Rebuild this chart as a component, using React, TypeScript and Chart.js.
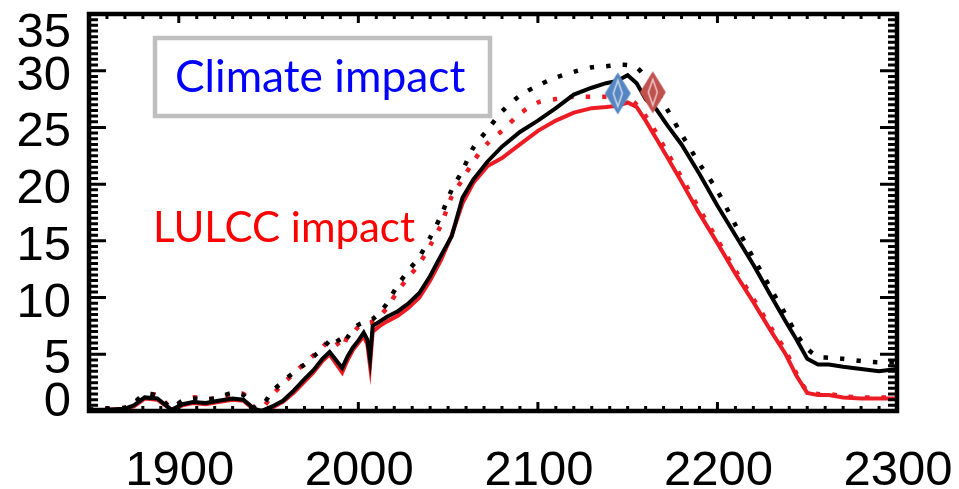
import React, { useEffect, useRef } from "react";
import { Chart, registerables } from "chart.js";

Chart.register(...registerables);

// ---------- data ----------
const years = [
  1850, 1860, 1870, 1875, 1881, 1888, 1896, 1902, 1908, 1915, 1922, 1930, 1936, 1942, 1946,
  1952, 1958, 1964, 1970, 1975, 1980, 1984, 1987, 1991, 1994, 1997, 2000, 2003, 2005, 2006.5,
  2008, 2012, 2016, 2022, 2028, 2034, 2040, 2046, 2052, 2058, 2064, 2072, 2080, 2090, 2100,
  2110, 2120, 2130, 2138, 2144, 2150, 2155, 2160, 2166, 2172, 2180, 2190, 2200, 2210, 2220,
  2230, 2238, 2244, 2250, 2256, 2262, 2270, 2280, 2290, 2300,
];

const blackSolid = [
  0.1, 0.1, 0.2, 0.5, 1.2, 1.1, 0.1, 0.6, 0.8, 0.7, 0.9, 1.1, 1.0, 0.2, 0.0,
  0.4, 0.9, 1.8, 2.8, 3.6, 4.6, 5.2, 4.6, 3.8, 4.8, 5.6, 6.2, 6.9, 6.3, 4.6,
  7.5, 7.9, 8.3, 8.8, 9.5, 10.4, 11.9, 13.7, 15.4, 18.8, 20.4, 22.0, 23.3, 24.6, 25.6,
  26.7, 27.9, 28.5, 28.9, 29.1, 29.6, 28.9, 27.5, 26.6, 25.2, 23.5, 20.9, 18.1, 15.5, 12.9,
  10.1, 7.9, 6.3, 4.6, 4.1, 4.1, 3.9, 3.7, 3.5, 3.7,
];

const blackDotted = [
  0.1, 0.2, 0.3, 0.7, 1.5, 1.3, 0.3, 0.9, 1.1, 1.0, 1.2, 1.6, 1.4, 0.3, 0.4,
  1.7, 2.6, 3.4, 4.1, 4.8, 5.5, 6.2, 6.6, 5.8, 6.5, 7.2, 7.6, 7.8, 7.9, 8.0,
  8.1, 8.7, 9.5, 11.1, 12.4, 13.6, 15.3, 17.2, 19.5, 21.2, 23.2, 24.8, 26.4, 27.8, 28.7,
  29.4, 29.9, 30.3, 30.4, 30.5, 30.5, 30.3, 29.4, 28.2, 26.6, 24.4, 21.8, 19.4, 16.4, 13.5,
  10.7, 8.5, 6.8, 5.5, 4.8, 4.7, 4.6, 4.4, 4.3, 4.3,
];

const redSolid = [
  0.0, 0.1, 0.2, 0.4, 1.1, 1.0, 0.1, 0.5, 0.7, 0.6, 0.8, 1.0, 0.9, 0.1, 0.0,
  0.3, 0.8, 1.6, 2.6, 3.4, 4.4, 5.0, 4.3, 3.4, 4.5, 5.4, 6.0, 6.6, 5.9, 4.0,
  7.0, 7.5, 7.9, 8.4, 9.1, 10.0, 11.5, 13.3, 15.5, 18.3, 20.1, 21.6, 22.3, 23.5, 24.7,
  25.6, 26.3, 26.7, 26.8, 26.9, 27.2, 26.8, 25.6, 24.0, 22.4, 20.2, 17.4, 14.8, 12.1, 9.6,
  7.0, 5.0, 3.1, 1.6, 1.4, 1.4, 1.2, 1.1, 1.1, 1.1,
];

const redDotted = [
  0.1, 0.2, 0.3, 0.6, 1.4, 1.4, 0.3, 0.9, 1.2, 1.1, 1.1, 1.5, 1.5, 0.3, 0.2,
  1.4, 2.4, 3.3, 4.2, 4.9, 5.6, 6.3, 6.2, 5.5, 6.6, 6.9, 7.4, 7.6, 7.8, 7.8,
  7.9, 8.4, 9.1, 10.6, 11.8, 13.0, 14.6, 16.4, 18.9, 20.4, 22.0, 23.6, 24.7, 26.2, 27.2,
  27.5, 27.7, 27.7, 27.7, 27.7, 27.6, 27.0, 26.0, 24.5, 22.8, 20.6, 17.8, 15.1, 12.4, 9.9,
  7.3, 5.3, 3.3, 1.8, 1.5, 1.5, 1.3, 1.2, 1.2, 1.2,
];

const markerYears = [2144.5, 2164];
const markerValues = [28.0, 28.1];
const markerColors = ["#5686c2", "#c0504d"];

const xTickLabels = [1900, 2000, 2100, 2200, 2300];
const yTickLabels = [0, 5, 10, 15, 20, 25, 30, 35];

const X_MIN = 1850;
const X_MAX = 2300;
const Y_MIN = 0;
const Y_MAX = 35;

// ---------- helpers ----------
function toPoints(xs: number[], ys: number[]) {
  return xs.map((x, i) => ({ x, y: ys[i] }));
}

function makeDiamond(color: string): HTMLCanvasElement {
  const c = document.createElement("canvas");
  const w = 28, h = 44;
  c.width = w;
  c.height = h;
  const g = c.getContext("2d")!;
  g.beginPath();
  g.moveTo(w / 2, 1);
  g.lineTo(w - 1, h / 2);
  g.lineTo(w / 2, h - 1);
  g.lineTo(1, h / 2);
  g.closePath();
  g.fillStyle = color;
  g.fill();
  g.beginPath();
  g.moveTo(w / 2, 9);
  g.lineTo(w / 2 + 4.5, h / 2);
  g.lineTo(w / 2, h - 9);
  g.lineTo(w / 2 - 4.5, h / 2);
  g.closePath();
  g.strokeStyle = "rgba(255,255,255,0.65)";
  g.lineWidth = 1.6;
  g.stroke();
  return c;
}

const FONT_TICK = "'Liberation Sans', Arial, sans-serif";
const FONT_NOTE = "Lato, 'Open Sans', sans-serif";

const framePlugin = {
  id: "idlFrame",
  afterDatasetsDraw(chart: any) {
    const { ctx, chartArea: a } = chart;
    const xs = chart.scales.x;
    const ys = chart.scales.y;
    ctx.save();
    ctx.strokeStyle = "#000";
    ctx.lineCap = "butt";

    // x ticks (bottom & top), inward
    ctx.lineWidth = 3;
    for (let v = X_MIN; v <= X_MAX; v += 10) {
      const px = xs.getPixelForValue(v);
      const major = v % 100 === 0;
      const len = major ? 9 : 5;
      ctx.beginPath();
      ctx.moveTo(px, a.bottom);
      ctx.lineTo(px, a.bottom - len);
      ctx.moveTo(px, a.top);
      ctx.lineTo(px, a.top + len);
      ctx.stroke();
    }
    // y ticks (left & right), inward
    for (let i = 0; i <= (Y_MAX - Y_MIN) * 2; i++) {
      const v = Y_MIN + i * 0.5;
      const py = ys.getPixelForValue(v);
      const major = i % 10 === 0;
      const len = major ? 17 : 9;
      ctx.beginPath();
      ctx.moveTo(a.left, py);
      ctx.lineTo(a.left + len, py);
      ctx.moveTo(a.right, py);
      ctx.lineTo(a.right - len, py);
      ctx.stroke();
    }
    // frame
    ctx.lineWidth = 4.5;
    ctx.strokeRect(a.left, a.top, a.right - a.left, a.bottom - a.top);

    // tick labels
    ctx.fillStyle = "#000";
    ctx.font = `49px ${FONT_TICK}`;
    ctx.textBaseline = "alphabetic";
    ctx.textAlign = "center";
    for (const v of xTickLabels) {
      ctx.fillText(String(v), xs.getPixelForValue(v) + 1, 485);
    }
    ctx.textAlign = "right";
    for (const v of yTickLabels) {
      const py = ys.getPixelForValue(v);
      const center = Math.min(399, Math.max(30, py + 2));
      ctx.fillText(String(v), 71, center + 17);
    }

    // annotation: Climate impact box
    ctx.lineWidth = 4.5;
    ctx.strokeStyle = "#bfbfbf";
    ctx.fillStyle = "#ffffff";
    ctx.beginPath();
    ctx.rect(155, 38, 335, 78);
    ctx.fill();
    ctx.stroke();

    const fitText = (txt: string, width: number) => {
      ctx.font = `40px ${FONT_NOTE}`;
      const m = ctx.measureText(txt).width;
      const size = (40 * width) / m;
      ctx.font = `${size.toFixed(1)}px ${FONT_NOTE}`;
    };
    ctx.textAlign = "left";
    fitText("Climate impact", 290);
    ctx.fillStyle = "#0000ff";
    ctx.fillText("Climate impact", 175, 92);

    fitText("LULCC impact", 262);
    ctx.fillStyle = "#ff0000";
    ctx.fillText("LULCC impact", 153, 242);

    ctx.restore();
  },
};

export default function App() {
  const ref = useRef<HTMLCanvasElement | null>(null);

  useEffect(() => {
    if (!ref.current) return;
    const blue = makeDiamond(markerColors[0]);
    const brown = makeDiamond(markerColors[1]);

    const chart = new Chart(ref.current, {
      type: "line",
      data: {
        datasets: [
          {
            label: "Peaks",
            data: toPoints(markerYears, markerValues),
            showLine: false,
            pointStyle: [blue, brown] as any,
            pointRadius: 14,
            borderWidth: 0,
          },
          {
            label: "Black solid",
            data: toPoints(years, blackSolid),
            borderColor: "#000000",
            borderWidth: 4,
            pointRadius: 0,
            tension: 0,
          },
          {
            label: "Black dotted",
            data: toPoints(years, blackDotted),
            borderColor: "#000000",
            borderWidth: 4.5,
            borderDash: [4.5, 12],
            pointRadius: 0,
            tension: 0.3,
          },
          {
            label: "Red dotted",
            data: toPoints(years, redDotted),
            borderColor: "#ed1c24",
            borderWidth: 4.5,
            borderDash: [4.5, 12],
            pointRadius: 0,
            tension: 0.3,
          },
          {
            label: "Red solid",
            data: toPoints(years, redSolid),
            borderColor: "#ed1c24",
            borderWidth: 4,
            pointRadius: 0,
            tension: 0,
          },
        ],
      },
      options: {
        animation: false,
        responsive: false,
        events: [],
        layout: { padding: { left: 89, right: 62, top: 13, bottom: 78 } },
        plugins: {
          legend: { display: false },
          tooltip: { enabled: false },
        },
        scales: {
          x: { type: "linear", min: X_MIN, max: X_MAX, display: false },
          y: { type: "linear", min: Y_MIN, max: Y_MAX, display: false },
        },
      },
      plugins: [framePlugin],
    });
    return () => chart.destroy();
  }, []);

  return (
    <div style={{ position: "fixed", left: 0, top: 0, width: 959, height: 489, background: "#fff" }}>
      <canvas ref={ref} width={959} height={489} style={{ display: "block" }} />
    </div>
  );
}
